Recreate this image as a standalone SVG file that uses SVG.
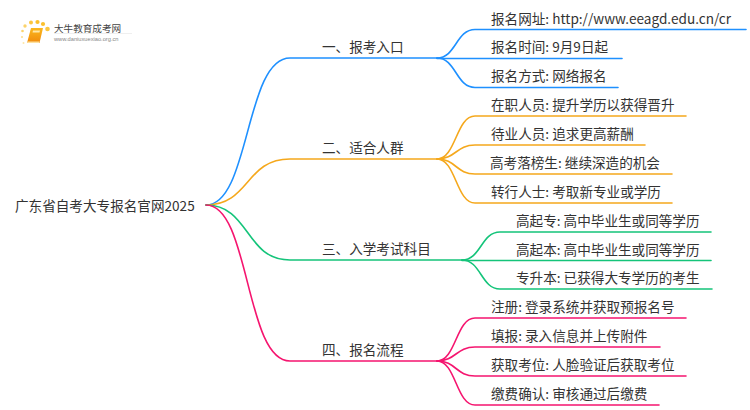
<svg xmlns="http://www.w3.org/2000/svg" width="750" height="410" viewBox="0 0 750 410">
<defs><linearGradient id="book" x1="0" y1="0" x2="0" y2="1"><stop offset="0" stop-color="#fbb81e"/><stop offset="1" stop-color="#f08a0c"/></linearGradient></defs>
<style>
text{font-family:"Noto Sans CJK SC","Noto Sans",sans-serif;font-size:13.600px;fill:#333}
.c path{fill:none;stroke-width:1.6;stroke-linecap:round}
.b path{stroke:#1e90ff}.o path{stroke:#f5a81c}.g path{stroke:#14c47a}.p path{stroke:#f5156f}
</style>
<rect width="750" height="410" fill="#fff"/>
<g id="logo">
<circle cx="25" cy="26" r="1.7" fill="#fbd36b"/><circle cx="22.500" cy="31" r="1.300" fill="#fbd36b"/><circle cx="22" cy="37" r="1" fill="#fcdc8a"/><circle cx="23.500" cy="43" r="1" fill="#fde6a8"/>
<circle cx="31" cy="22.500" r="2" fill="#fbc640"/><circle cx="37.500" cy="22" r="2.100" fill="#fbc02d"/><circle cx="43" cy="24" r="2.100" fill="#fbc02d"/><circle cx="47.500" cy="29" r="2.300" fill="#fbc640"/>
<path d="M31 28h12l-3.500 15H27z" fill="url(#book)"/><path d="M27.500 41.500H39.500l-.4 1.500H27z" fill="#fde2a0"/><path d="M33 30.500h7l-.5 2h-7z" fill="#ffe9a8"/>
<text x="54" y="31.500" style="font-size:9.600px;fill:#444">大牛教育成考网</text>
<text x="54" y="41" style="font-size:5.700px;fill:#888;font-family:'Liberation Sans',sans-serif">www.daniuxuexiao.org.cn</text>
<rect x="54" y="33" width="78" height="0.700" fill="#e8e8e8"/>
</g>
<g id="connectors" class="c">
<g class="b"><path d="M206 205C250 205 245 58 290 58H437"/><path d="M437 58C456 58 456 29.500 475 29.500H746"/><path d="M437 58.500H622"/><path d="M437 58C456 58 456 87.500 475 87.500H618"/></g>
<g class="o"><path d="M206 205C250 205 245 159 290 159H437"/><path d="M437 159C456 159 456 116 475 116H686"/><path d="M437 159C456 159 456 145 475 145H645"/><path d="M437 159C456 159 456 174 475 174H672"/><path d="M437 159C456 159 456 203 475 203H672"/></g>
<g class="g"><path d="M206 205C250 205 245 260 290 260H462"/><path d="M462 260C481 260 481 232 500 232H711"/><path d="M462 260.500H711"/><path d="M462 260C481 260 481 289 500 289H712"/></g>
<g class="p"><path d="M206 205C250 205 245 361 290 361H437"/><path d="M437 361C456 361 456 318 475 318H686"/><path d="M437 361C456 361 456 347 475 347H660"/><path d="M437 361C456 361 456 376 475 376H686"/><path d="M437 361C456 361 456 405 475 405H659"/></g>
</g>
<g id="root"><text x="15" y="210.500">广东省自考大专报名官网2025</text></g>
<g id="n1"><text x="322" y="52">一、报考入口</text></g>
<g id="n2"><text x="322" y="153">二、适合人群</text></g>
<g id="n3"><text x="322" y="254">三、入学考试科目</text></g>
<g id="n4"><text x="322" y="355">四、报名流程</text></g>
<g id="n1a"><text x="491" y="23.500">报名网址: http://www.eeagd.edu.cn/cr</text></g>
<g id="n1b"><text x="491" y="52">报名时间: 9月9日起</text></g>
<g id="n1c"><text x="491" y="81">报名方式: 网络报名</text></g>
<g id="n2a"><text x="491" y="110">在职人员: 提升学历以获得晋升</text></g>
<g id="n2b"><text x="491" y="139">待业人员: 追求更高薪酬</text></g>
<g id="n2c"><text x="490" y="168">高考落榜生: 继续深造的机会</text></g>
<g id="n2d"><text x="491" y="197">转行人士: 考取新专业或学历</text></g>
<g id="n3a"><text x="516" y="226">高起专: 高中毕业生或同等学历</text></g>
<g id="n3b"><text x="516" y="254.500">高起本: 高中毕业生或同等学历</text></g>
<g id="n3c"><text x="516" y="283">专升本: 已获得大专学历的考生</text></g>
<g id="n4a"><text x="491" y="312">注册: 登录系统并获取预报名号</text></g>
<g id="n4b"><text x="491" y="341">填报: 录入信息并上传附件</text></g>
<g id="n4c"><text x="491" y="370">获取考位: 人脸验证后获取考位</text></g>
<g id="n4d"><text x="491" y="399">缴费确认: 审核通过后缴费</text></g>
</svg>
